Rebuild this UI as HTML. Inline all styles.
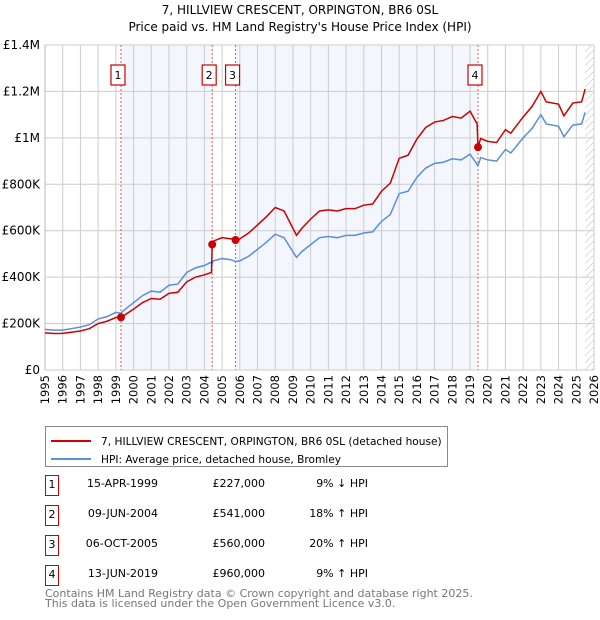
<!DOCTYPE html>
<html><head><meta charset="utf-8"><style>
body{margin:0;background:#fff;font-family:"DejaVu Sans","Liberation Sans",sans-serif;}
#wrap{position:relative;width:600px;height:620px;overflow:hidden}
.t{position:absolute;font-size:11px;color:#000;white-space:nowrap}
.box{position:absolute;width:14px;height:21px;border:1.5px solid #c00;box-sizing:border-box;font-size:11px;text-align:center;line-height:18px;background:#fff}
svg text{font-family:"DejaVu Sans","Liberation Sans",sans-serif}
</style></head><body><div id="wrap">
<div class="t" style="left:0;width:600px;text-align:center;top:3px;font-size:12px">7, HILLVIEW CRESCENT, ORPINGTON, BR6 0SL</div>
<div class="t" style="left:0;width:600px;text-align:center;top:20px;font-size:12px">Price paid vs. HM Land Registry's House Price Index (HPI)</div>
<svg id="chart" width="600" height="420" style="position:absolute;left:0;top:0"></svg>
<div style="position:absolute;left:45px;top:426px;width:403px;height:41px;border:1px solid #888;box-sizing:border-box;white-space:nowrap">
<div style="position:absolute;left:5px;top:3px"><span style="display:inline-block;width:40px;height:2px;background:#c00;vertical-align:middle;margin-right:10px"></span><span style="font-size:10.6px">7, HILLVIEW CRESCENT, ORPINGTON, BR6 0SL (detached house)</span></div>
<div style="position:absolute;left:5px;top:21px"><span style="display:inline-block;width:40px;height:2px;background:#5b8ed6;vertical-align:middle;margin-right:10px"></span><span style="font-size:10.6px">HPI: Average price, detached house, Bromley</span></div>
</div>
<div id="table"></div>
<div class="t" style="left:45px;top:589px;font-size:11px;color:#777;line-height:10px">Contains HM Land Registry data © Crown copyright and database right 2025.<br>This data is licensed under the Open Government Licence v3.0.</div>
</div>
<script>
const dates=[1995,1995.5,1996,1997,1997.5,1998,1998.5,1999,1999.29,1999.5,2000,2000.5,2001,2001.5,2002,2002.5,2003,2003.5,2004,2004.4,2004.44,2004.5,2005,2005.5,2005.76,2006,2006.5,2007,2007.5,2008,2008.5,2009.2,2009.5,2010,2010.5,2011,2011.5,2012,2012.5,2013,2013.5,2014,2014.5,2015,2015.5,2016,2016.5,2017,2017.5,2018,2018.5,2019,2019.4,2019.45,2019.6,2020,2020.5,2021,2021.3,2022,2022.5,2023,2023.3,2024,2024.3,2024.8,2025.3,2025.5];
const hpi=[175,172,172,185,195,220,230,248,245,260,290,320,340,335,365,370,420,440,450,465,458,470,480,475,467,470,490,520,550,585,570,485,510,540,570,575,570,580,580,590,595,640,670,760,770,830,870,890,895,910,905,930,885,880,915,905,900,950,935,1000,1040,1100,1060,1050,1005,1055,1060,1110];
const price=[160,157,158,168,178,200,210,226,227,237,262,290,308,305,330,335,380,400,410,420,541,555,570,565,560,565,590,625,660,700,685,580,610,650,685,690,685,695,695,710,715,770,805,912,925,995,1045,1068,1075,1092,1085,1115,1060,960,997,985,980,1035,1020,1090,1135,1200,1155,1145,1095,1150,1155,1210];
const saleIds=["1","2","3","4"];
const saleDates=[1999.29,2004.44,2005.76,2019.45];
const saleValues=[227,541,560,960];
const saleDateLabels=["15-APR-1999","09-JUN-2004","06-OCT-2005","13-JUN-2019"];
const salePriceLabels=["£227,000","£541,000","£560,000","£960,000"];
const saleHpiLabels=["9% ↓ HPI","18% ↑ HPI","20% ↑ HPI","9% ↑ HPI"];
const yTicks=[0,200,400,600,800,1000,1200,1400];
const yTickLabels=["£0","£200K","£400K","£600K","£800K","£1M","£1.2M","£1.4M"];
const X0=45,X1=594,Y0=370,Y1=45,D0=1995,D1=2026,VMAX=1400;
const xs=d=>X0+(d-D0)/(D1-D0)*(X1-X0);
const ys=v=>Y0-v/VMAX*(Y0-Y1);
const svg=document.getElementById('chart');const NS='http://www.w3.org/2000/svg';
function mk(tag,attrs,name){const e=document.createElementNS(NS,tag);for(const k in attrs)e.setAttribute(k,attrs[k]);


svg.appendChild(e);return e;}
mk('rect',{x:xs(saleDates[0]),y:Y1,width:xs(saleDates[1])-xs(saleDates[0]),height:Y0-Y1,fill:'#eef3fc',opacity:0.7},'shade-1');
mk('rect',{x:xs(saleDates[2]),y:Y1,width:xs(saleDates[3])-xs(saleDates[2]),height:Y0-Y1,fill:'#eef3fc',opacity:0.7},'shade-2');
const defs=document.createElementNS(NS,'defs');defs.innerHTML='<pattern id="hatch" width="5" height="5" patternUnits="userSpaceOnUse" patternTransform="rotate(45)"><line x1="0" y1="0" x2="0" y2="5" stroke="#bbb" stroke-width="1"/></pattern>';svg.appendChild(defs);
mk('rect',{x:xs(2025.5),y:Y1,width:X1-xs(2025.5),height:Y0-Y1,fill:'url(#hatch)'},'forecast-hatch');
for(let yr=D0;yr<=D1;yr++){mk('line',{x1:xs(yr),x2:xs(yr),y1:Y1,y2:Y0,stroke:'#ccc','stroke-width':1},'x-grid');
const t=mk('text',{x:0,y:0,'font-size':11.5,'text-anchor':'end',transform:`translate(${xs(yr)+4},${Y0+5}) rotate(-90)`},'x-tick-label');t.textContent=yr;}
yTicks.forEach((v,i)=>{mk('line',{x1:X0,x2:X1,y1:ys(v),y2:ys(v),stroke:'#ccc','stroke-width':1},'y-grid');
const t=mk('text',{x:X0-5,y:ys(v)+4,'font-size':12,'text-anchor':'end'},'y-tick-label');t.textContent=yTickLabels[i];});
mk('line',{x1:X0,x2:X0,y1:Y1,y2:Y0,stroke:'#bbb'},'y-axis');
saleDates.forEach((d,i)=>{mk('line',{x1:xs(d),x2:xs(d),y1:Y1,y2:Y0,stroke:'#e55','stroke-width':1,'stroke-dasharray':'2,2'},'sale-line');});
mk('polyline',{points:dates.map((d,i)=>xs(d)+','+ys(hpi[i])).join(' '),fill:'none',stroke:'#5b8ed6','stroke-width':1.5},'hpi-line');
mk('polyline',{points:dates.map((d,i)=>xs(d)+','+ys(price[i])).join(' '),fill:'none',stroke:'#c00','stroke-width':1.5},'price-line');
saleDates.forEach((d,i)=>{mk('circle',{cx:xs(d),cy:ys(saleValues[i]),r:4,fill:'#c00'},'sale-point');
mk('rect',{x:xs(d)-10,y:65,width:14,height:20,fill:'#fff',stroke:'#c00','stroke-width':1.2},'sale-marker-box');
const t=mk('text',{x:xs(d)-3,y:79,'font-size':11,'text-anchor':'middle'},'sale-marker-label');t.textContent=saleIds[i];});
const tb=document.getElementById('table');
saleIds.forEach((id,i)=>{const top=475+i*30;
const b=document.createElement('div');b.className='box';b.style.left='45px';b.style.top=top+'px';b.textContent=id;

tb.appendChild(b);
[[saleDateLabels[i],158],[salePriceLabels[i],265],[saleHpiLabels[i],368]].forEach(([txt,r])=>{const c=document.createElement('div');c.className='t';c.style.right=(600-r)+'px';c.style.top=(top+2)+'px';c.textContent=txt;

tb.appendChild(c);});});
</script></body></html>
